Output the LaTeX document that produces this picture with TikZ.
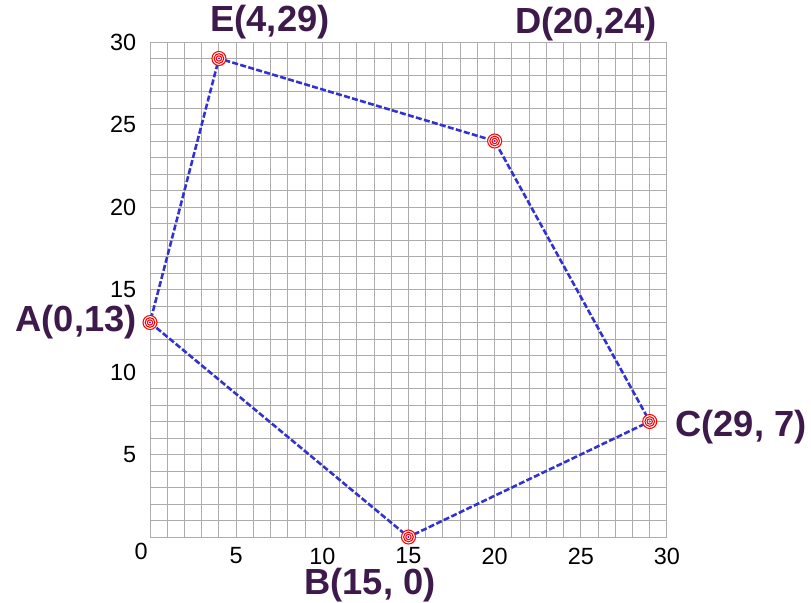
\documentclass[tikz,border=0pt]{standalone}
\usepackage{fontspec}
\setmainfont{Liberation Sans}
\usepackage{xcolor}
\definecolor{ptlabel}{RGB}{62,26,76}
\definecolor{edgeblue}{RGB}{50,50,210}

\begin{document}
\begin{tikzpicture}[x=0.5169cm, y=0.495cm,
    ptname/.style={text=ptlabel, inner sep=0.5pt, font=\fontsize{31}{36}\selectfont\bfseries},
    ticklabel/.style={inner sep=0.5pt, font=\fontsize{20}{24}\selectfont},
    edge/.style={edgeblue, line width=2.2pt, dash pattern=on 0.18cm off 0.07cm},
    ring/.style={red, line width=0.9pt}]
    \useasboundingbox (-8.706,-3.94) rectangle (38.36,32.545);

    % Grid
    \foreach \i in {0,...,30} {
      \draw[gray!65, line width=0.8pt] (\i,0) -- (\i,30);
      \draw[gray!65, line width=0.8pt] (0,\i) -- (30,\i);
    }

    % Tick labels
    \node[ticklabel] (x0) at (-0.52,-0.85) {0};
    \foreach \t in {5,10,...,30} {
      \node[ticklabel] (x\t) at (\t,-1.15) {\t};
      \node[ticklabel, anchor=east] (y\t) at (-0.75,\t) {\t};
    }

    % Points
    \coordinate (A) at (0,13);
    \coordinate (B) at (15,0);
    \coordinate (C) at (29,7);
    \coordinate (D) at (20,24);
    \coordinate (E) at (4,29);

    % Polygon
    \draw[edge] (A) -- (B) -- (C) -- (D) -- (E) -- cycle;

    % Markers
    \foreach \p in {A,B,C,D,E} {
      \fill[white] (\p) circle (0.21cm);
      \draw[ring] (\p) circle (0.21cm);
      \draw[ring] (\p) circle (0.145cm);
      \draw[ring] (\p) circle (0.08cm);
      \fill[edgeblue] (\p) circle (0.035cm);
    }

    % Point names
    \node[ptname] (Alabel) at (-4.29,13.0) {A(0,13)};
    \node[ptname] (Blabel) at (12.77,-2.9) {B(15, 0)};
    \node[ptname] (Clabel) at (34.3,6.67) {C(29, 7)};
    \node[ptname] (Dlabel) at (25.3,31.1) {D(20,24)};
    \node[ptname] (Elabel) at (6.96,31.2) {E(4,29)};
\end{tikzpicture}
\end{document}
